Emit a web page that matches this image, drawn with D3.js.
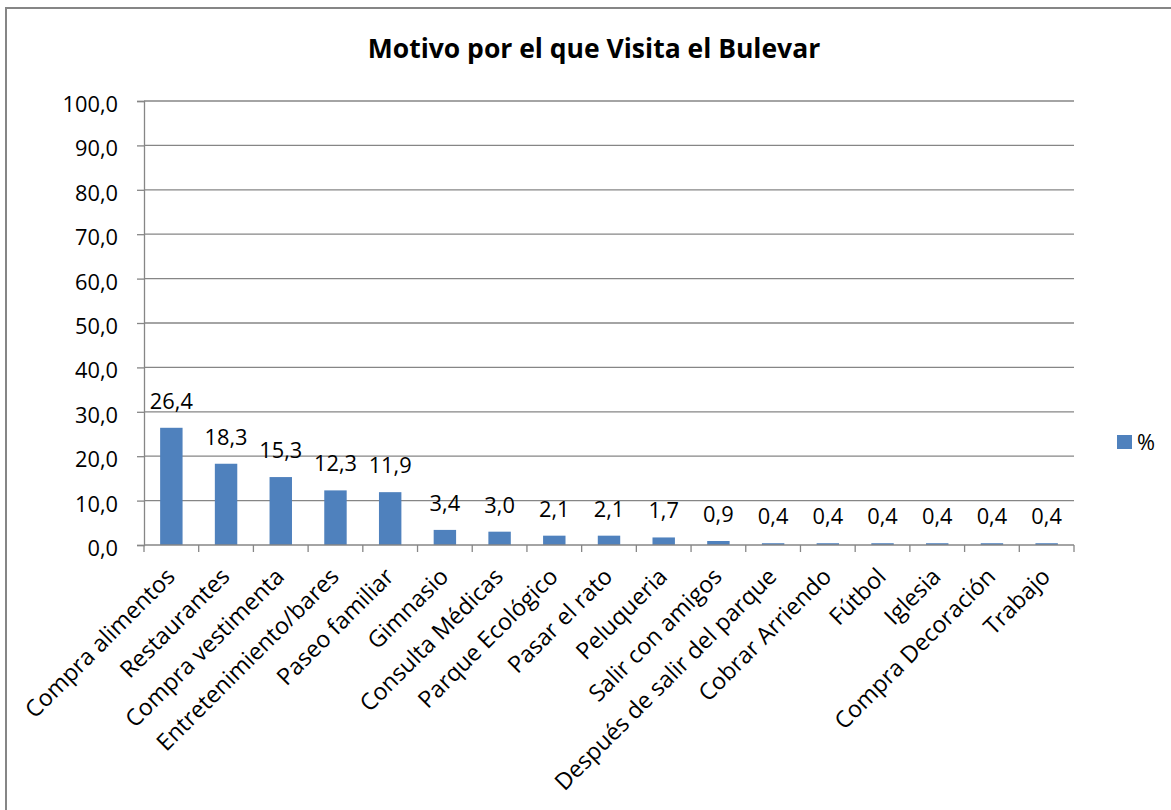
<!DOCTYPE html>
<html>
<head>
<meta charset="utf-8">
<script src="https://cdn.jsdelivr.net/npm/d3@7"></script>
<style>
  html, body { margin: 0; padding: 0; background: #ffffff; }
  svg { display: block; }
  text { font-family: "Open Sans", Lato, sans-serif; fill: #000; }
</style>
</head>
<body>
<svg id="chart" width="1171" height="810"></svg>
<script>
const title = "Motivo por el que Visita el Bulevar";
const categories = [
  "Compra alimentos", "Restaurantes", "Compra vestimenta", "Entretenimiento/bares",
  "Paseo familiar", "Gimnasio", "Consulta Médicas", "Parque Ecológico",
  "Pasar el rato", "Peluqueria", "Salir con amigos", "Después de salir del parque",
  "Cobrar Arriendo", "Fútbol", "Iglesia", "Compra Decoración", "Trabajo"
];
const values = [26.4, 18.3, 15.3, 12.3, 11.9, 3.4, 3.0, 2.1, 2.1, 1.7, 0.9, 0.4, 0.4, 0.4, 0.4, 0.4, 0.4];
const yTicks = [0, 10, 20, 30, 40, 50, 60, 70, 80, 90, 100];
const seriesName = "%";

const fmt = v => v.toFixed(1).replace(".", ",");
const barColor = "#4F81BD";
const gridColor = "#868686";
const fs = 21.8;
const fsX = 23.3;

const svg = d3.select("#chart");

// outer chart border
svg.append("rect")
  .attr("x", 6).attr("y", 8).attr("width", 1200).attr("height", 830)
  .attr("fill", "#fff").attr("stroke", gridColor).attr("stroke-width", 2);

const x = d3.scaleBand().domain(categories).range([144, 1074]).paddingInner(0.59).paddingOuter(0.295);
const y = d3.scaleLinear().domain([0, 100]).range([545, 101]);

// gridlines
svg.append("g").selectAll("line").data(yTicks.filter(t => t > 0)).join("line")
  .attr("x1", 144).attr("x2", 1074)
  .attr("y1", d => y(d)).attr("y2", d => y(d))
  .attr("stroke", gridColor).attr("stroke-width", 1.3);

// y axis
const yAxis = d3.axisLeft(y).tickValues(yTicks).tickFormat(fmt).tickSize(7).tickPadding(19);
const gy = svg.append("g").attr("transform", "translate(144,0)").call(yAxis);
gy.select(".domain").attr("stroke", gridColor).attr("stroke-width", 1.3);
gy.selectAll(".tick line").attr("stroke", gridColor).attr("stroke-width", 1.3);
gy.selectAll(".tick text").attr("font-size", fs).attr("font-family", "Open Sans").attr("dy", "0.48em").attr("fill", "#000");

// bars
svg.append("g").selectAll("rect").data(values).join("rect")
  .attr("x", (d, i) => x(categories[i]))
  .attr("width", x.bandwidth())
  .attr("y", d => y(d))
  .attr("height", d => y(0) - y(d))
  .attr("fill", barColor);

// x axis line and ticks
const step = x.step();
const xAxisG = svg.append("g");
xAxisG.append("line").attr("x1", 144).attr("x2", 1074).attr("y1", y(0)).attr("y2", y(0))
  .attr("stroke", gridColor).attr("stroke-width", 1.3);
const bounds = d3.range(categories.length + 1).map(i => 144 + i * step);
xAxisG.selectAll("line.t").data(bounds).join("line").attr("class", "t")
  .attr("x1", d => d).attr("x2", d => d).attr("y1", y(0)).attr("y2", y(0) + 7)
  .attr("stroke", gridColor).attr("stroke-width", 1.3);

// x labels
svg.append("g").selectAll("text").data(categories).join("text")
  .attr("transform", d => `translate(${x(d) + x.bandwidth() / 2 + 5},578) rotate(-45)`)
  .attr("text-anchor", "end")
  .attr("font-size", fsX)
  .text(d => d);

// data labels
svg.append("g").selectAll("text").data(values).join("text")
  .attr("x", (d, i) => x(categories[i]) + x.bandwidth() / 2)
  .attr("y", d => y(d) - 19)
  .attr("text-anchor", "middle")
  .attr("font-size", fs)
  .text(d => fmt(d));

// title
svg.append("text").attr("x", 594).attr("y", 58).attr("text-anchor", "middle")
  .attr("font-size", 26.5).attr("font-weight", "bold").text(title);

// legend
svg.append("rect").attr("x", 1117).attr("y", 435).attr("width", 15).attr("height", 14).attr("fill", barColor);
svg.append("text").attr("x", 1137).attr("y", 450).attr("font-size", fs).text(seriesName);
</script>
</body>
</html>
